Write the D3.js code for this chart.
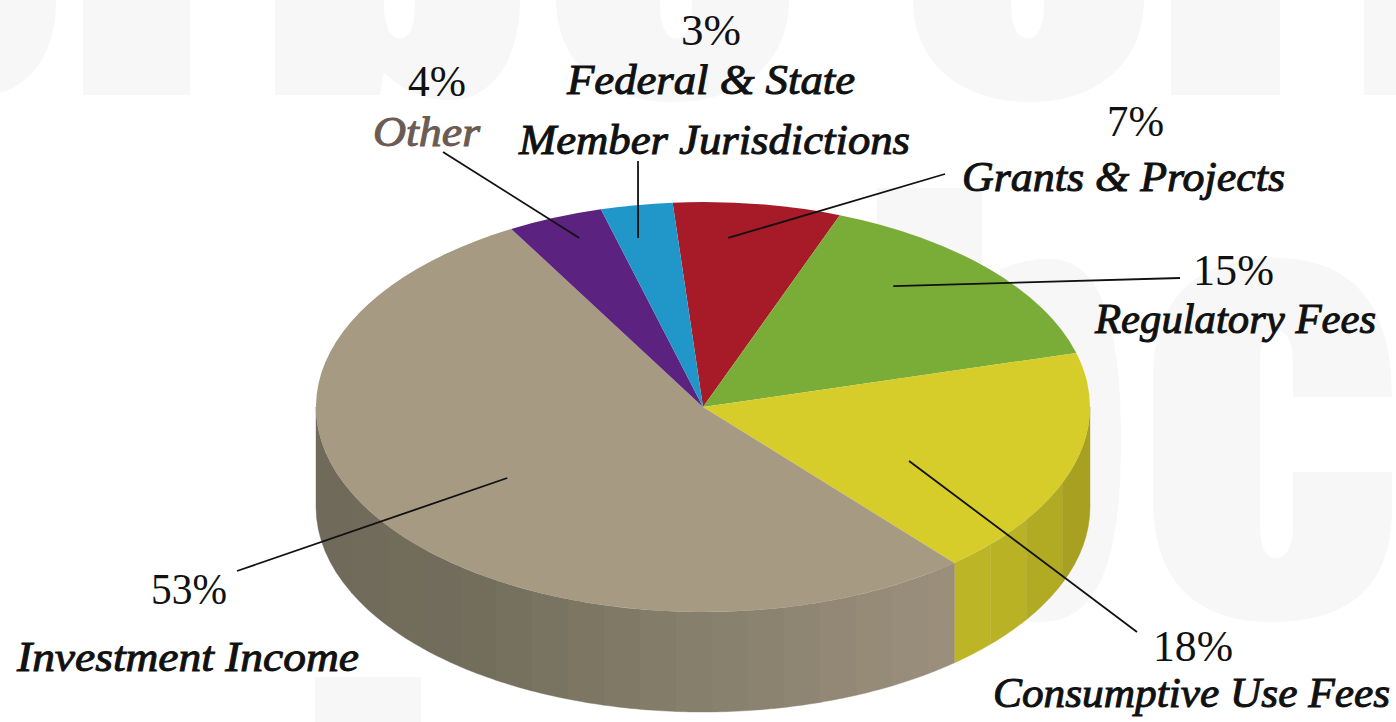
<!DOCTYPE html>
<html>
<head>
<meta charset="utf-8">
<style>
    html, body { margin: 0; padding: 0; background: #fff; overflow: hidden; }
    text { font-family: "Liberation Serif", serif; fill: #111; }
    .pct { font-size: 45px; }
    .name { font-size: 42px; font-style: italic; stroke-width: 1px; }
</style>
<script src="https://cdn.jsdelivr.net/npm/d3@7"></script>
</head>
<body>
<div id="chart"></div>
<script>
// Data Setup
var categories = ["Grants & Projects", "Regulatory Fees", "Consumptive Use Fees", "Investment Income", "Other", "Federal & State\nMember Jurisdictions"];
var shares = [7, 15, 18, 53, 4, 3];
var colors = ["#a71a27", "#7aac38", "#d7cd2a", "#a69b82", "#5b2280", "#2196c9"];
var nameColors = ["#111", "#111", "#111", "#111", "#6b5b52", "#111"];

var width = 1396;
var height = 722;
var cx = 703, cy = 407, rx = 387, ry = 205, depth = 100;
var startDeg = -4.5;

var svg = d3.select("#chart").append("svg")
    .attr("width", width)
    .attr("height", height)
    .style("display", "block");

// Faint watermark letters behind the chart
var watermark = [
    "M0,0 H56 C56,50 35,82 0,93 Z",
    "M83,0 H190 V95 H83 Z",
    "M275,0 V95 H380 L384,72 C400,90 425,100 450,100 C495,100 520,55 520,0 H415 C415,28 410,38 400,38 C390,38 384,28 384,0 Z",
    "M556,0 C556,60 600,102 672,102 C745,102 789,60 789,0 H692 C692,28 686,38 676,38 C666,38 660,28 660,0 Z",
    "M913,0 C913,62 960,102 1030,102 C1098,102 1144,62 1144,0 H1044 C1044,28 1038,38 1028,38 C1017,38 1011,28 1011,0 Z",
    "M1171,0 H1280 V95 H1171 Z",
    "M1364,0 H1396 V95 H1364 Z",
    "M877,188 H982 V620 H877 Z",
    "M1000,270 C1015,262 1035,259 1050,259 C1095,259 1121,310 1121,440 C1121,570 1095,622 1040,622 C1010,622 990,612 975,600 Z",
    "M1392,397 H1293 V365 C1293,338 1285,330 1276,330 C1266,330 1260,340 1260,365 V525 C1260,548 1266,558 1276,558 C1286,558 1293,548 1293,525 V472 H1392 V510 C1392,585 1350,622 1272,622 C1195,622 1153,580 1153,500 V380 C1153,300 1195,258 1273,258 C1350,258 1392,300 1392,397 Z",
    "M315,677 H421 V722 H315 Z"
];
svg.append("g").selectAll("path")
    .data(watermark)
    .join("path")
    .attr("d", function (d) { return d; })
    .attr("fill", "#f7f7f7");

// Pie layout, angles are shared by the top face and the wall
var rad = d3.scaleLinear().domain([0, 360]).range([0, 2 * Math.PI]);
var pie = d3.pie()
    .sort(null)
    .startAngle(rad(startDeg))
    .endAngle(rad(startDeg + 360));
var slices = pie(shares);

function project(angle, r) {
    return [cx + rx * r * Math.sin(angle), cy - ry * r * Math.cos(angle)];
}

// Wall shading goes from dark on the left to lighter at the slice edge
var wallShade = [
    d3.scaleLinear().domain([952, 1020, 1090]).range(["#bdb727", "#b8b124", "#a39c20"]),
    d3.scaleLinear().domain([317, 480, 700, 952]).range(["#706a5a", "#736d5c", "#857f6b", "#9c907d"])
];
var wallSlices = [slices[2], slices[3]];

var wallArea = d3.area()
    .x(function (a) { return project(a, 1)[0]; })
    .y0(function (a) { return project(a, 1)[1]; })
    .y1(function (a) { return project(a, 1)[1] + depth; });

var bandWidth = 36;
var wall = svg.append("g");
wallSlices.forEach(function (s, i) {
    // walk only the front half of the ellipse
    var a0 = Math.max(s.startAngle, Math.PI / 2);
    var a1 = Math.min(s.endAngle, 3 * Math.PI / 2);
    var x0 = project(a1, 1)[0];
    var x1 = project(a0, 1)[0];
    var edges = d3.range(x0, x1, bandWidth).concat([x1]);
    d3.pairs(edges).forEach(function (pair) {
        var left = Math.PI - Math.asin((pair[0] - cx) / rx);
        var right = Math.PI - Math.asin((pair[1] - cx) / rx);
        var steps = d3.range(0, 9).map(function (k) { return right + (left - right) * k / 8; });
        var shade = wallShade[i]((pair[0] + pair[1]) / 2);
        wall.append("path")
            .attr("d", wallArea(steps))
            .attr("fill", shade)
            .attr("stroke", shade)
            .attr("stroke-width", 0.4);
    });
});

// Top face
var arc = d3.arc().innerRadius(0).outerRadius(rx);
svg.append("g")
    .attr("transform", "translate(" + cx + "," + cy + ") scale(1," + (ry / rx) + ")")
    .selectAll("path")
    .data(slices)
    .join("path")
    .attr("d", arc)
    .attr("fill", function (d, i) { return colors[i]; });

// Labels: [x, baseline, width] for the percent and each name row, leader goes from a point on the pie to the label
var labels = [
    { pct: [1107, 136, 57], rows: [[962, 191, 323]], deg: 4.5, r: 0.827, out: [945, 174] },
    { pct: [1193, 285, 81], rows: [[1095, 333, 281]], deg: 39.8, r: 0.768, out: [1180, 278] },
    { pct: [1153, 661, 80], rows: [[993, 707, 397]], deg: 116.3, r: 0.594, out: [1137, 632] },
    { pct: [151, 604, 76], rows: [[17, 671, 342]], deg: 235.6, r: 0.613, out: [237, 571] },
    { pct: [408, 96, 58], rows: [[373, 146, 107]], deg: -21.2, r: 0.884, out: [443, 152] },
    { pct: [681, 45, 60], rows: [[567, 94, 288], [519, 154, 391]], deg: -11.5, r: 0.841, out: [638, 161] }
];

var line = d3.line();
svg.append("g").selectAll("path")
    .data(labels)
    .join("path")
    .attr("d", function (d) { return line([project(rad(d.deg), d.r), d.out]); })
    .attr("fill", "none")
    .attr("stroke", "#111")
    .attr("stroke-width", 1.8);

labels.forEach(function (d, i) {
    svg.append("text")
        .attr("class", "pct")
        .attr("x", d.pct[0])
        .attr("y", d.pct[1])
        .attr("textLength", d.pct[2])
        .attr("lengthAdjust", "spacingAndGlyphs")
        .text(shares[i] + "%");
    categories[i].split("\n").forEach(function (name, j) {
        svg.append("text")
            .attr("class", "name")
            .attr("x", d.rows[j][0])
            .attr("y", d.rows[j][1])
            .attr("textLength", d.rows[j][2])
            .attr("lengthAdjust", "spacingAndGlyphs")
            .style("fill", nameColors[i])
            .style("stroke", nameColors[i])
            .text(name);
    });
});
</script>
</body>
</html>
